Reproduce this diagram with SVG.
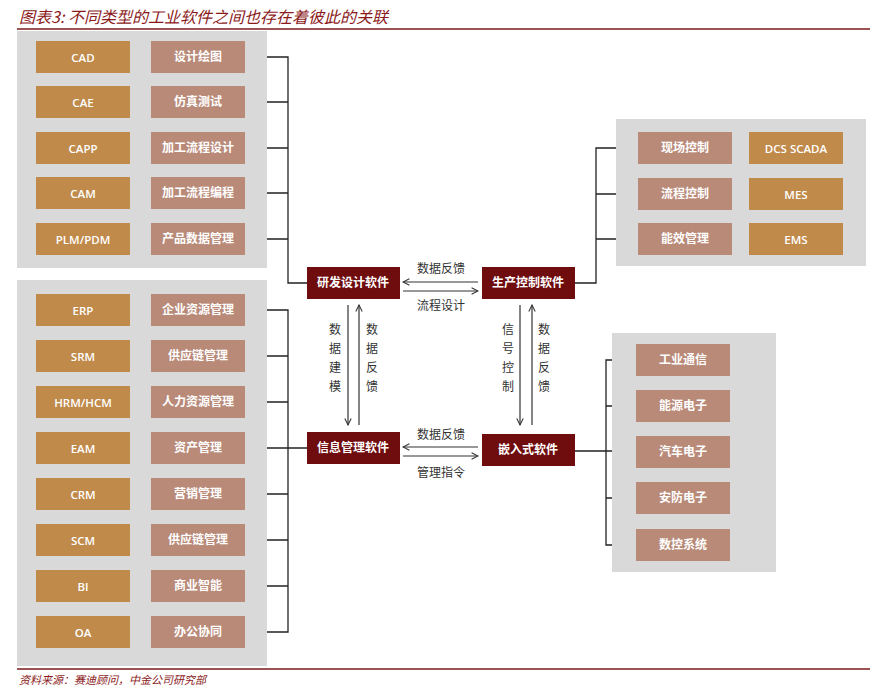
<svg xmlns="http://www.w3.org/2000/svg" width="889" height="699" viewBox="0 0 889 699">
<defs>
<style>
.pn{fill:#d9d9d9}
.g{fill:#c08a4b}
.m{fill:#b98a78}
.d{fill:#6e0c0e}
.tw{font-family:"Liberation Sans","Noto Sans CJK SC",sans-serif;font-size:12px;fill:#fff;text-anchor:middle;dominant-baseline:central;font-weight:bold}
.te{font-family:"Open Sans","Liberation Sans",sans-serif;font-size:11.5px;fill:#fff;text-anchor:middle;dominant-baseline:central;font-weight:600}
.tl{font-family:"Noto Sans CJK SC",sans-serif;font-size:12px;fill:#333;text-anchor:middle;dominant-baseline:central}
.ln{fill:none;stroke:#222;stroke-width:1.3}
.ar{fill:none;stroke:#333;stroke-width:1.2;marker-end:url(#a)}
</style>
<marker id="a" viewBox="0 0 10 10" refX="9" refY="5" markerWidth="8" markerHeight="8" orient="auto" markerUnits="userSpaceOnUse"><path d="M1,1 L9,5 L1,9" fill="none" stroke="#333" stroke-width="1.3"/></marker>
</defs>
<rect width="889" height="699" fill="#fff"/>
<text x="19" y="23" font-family="Noto Sans CJK SC,sans-serif" font-size="16" font-style="italic" fill="#8b1a1a">图表3: 不同类型的工业软件之间也存在着彼此的关联</text>
<line x1="17" y1="29" x2="870" y2="29" stroke="#7a1a1a" stroke-width="1.3"/>

<g id="connectors">
<path class="ln" d="M245,57 H288 V283 H307 M245,102 H288 M245,148 H288 M245,193 H288 M245,239 H288"/>
<path class="ln" d="M245,310 H288 V632 H245 M245,356 H288 M245,402 H288 M245,448 H307 M245,494 H288 M245,540 H288 M245,586 H288"/>
<path class="ln" d="M638,148 H596 V283 H575 M638,194 H596 M638,239 H596"/>
<path class="ln" d="M636,360 H606 V545 H636 M636,406 H606 M575,451 H636 M636,498 H606"/>
<line class="ar" x1="478" y1="282" x2="403" y2="282"/>
<line class="ar" x1="403" y1="291" x2="478" y2="291"/>
<line class="ar" x1="478" y1="447" x2="403" y2="447"/>
<line class="ar" x1="403" y1="456" x2="478" y2="456"/>
<line class="ar" x1="348" y1="305" x2="348" y2="425"/>
<line class="ar" x1="359" y1="425" x2="359" y2="305"/>
<line class="ar" x1="520" y1="305" x2="520" y2="425"/>
<line class="ar" x1="532" y1="425" x2="532" y2="305"/>
<text class="tl" x="441" y="267">数据反馈</text>
<text class="tl" x="441" y="304">流程设计</text>
<text class="tl" x="441" y="433">数据反馈</text>
<text class="tl" x="441" y="471">管理指令</text>
<g class="tl"><text class="tl" x="335" y="328">数</text><text class="tl" x="335" y="347">据</text><text class="tl" x="335" y="366">建</text><text class="tl" x="335" y="385">模</text>
<text class="tl" x="372" y="328">数</text><text class="tl" x="372" y="347">据</text><text class="tl" x="372" y="366">反</text><text class="tl" x="372" y="385">馈</text>
<text class="tl" x="508" y="328">信</text><text class="tl" x="508" y="347">号</text><text class="tl" x="508" y="366">控</text><text class="tl" x="508" y="385">制</text>
<text class="tl" x="544" y="328">数</text><text class="tl" x="544" y="347">据</text><text class="tl" x="544" y="366">反</text><text class="tl" x="544" y="385">馈</text></g>
</g>

<rect class="pn" x="17" y="31" width="250" height="237"/>
<rect class="pn" x="17" y="280" width="250" height="386"/>
<rect class="pn" x="616" y="119" width="250" height="147"/>
<rect class="pn" x="612" y="333" width="164" height="239"/>

<g id="rd-left"><rect class="g" x="36" y="41" width="94" height="32"/><text class="te" x="83" y="57">CAD</text><rect class="m" x="151" y="41" width="94" height="32"/><text class="tw" x="198" y="57">设计绘图</text></g>
<g id="rd-2"><rect class="g" x="36" y="86" width="94" height="32"/><text class="te" x="83" y="102">CAE</text><rect class="m" x="151" y="86" width="94" height="32"/><text class="tw" x="198" y="102">仿真测试</text></g>
<g id="rd-3"><rect class="g" x="36" y="132" width="94" height="32"/><text class="te" x="83" y="148">CAPP</text><rect class="m" x="151" y="132" width="94" height="32"/><text class="tw" x="198" y="148">加工流程设计</text></g>
<g id="rd-4"><rect class="g" x="36" y="177" width="94" height="32"/><text class="te" x="83" y="193">CAM</text><rect class="m" x="151" y="177" width="94" height="32"/><text class="tw" x="198" y="193">加工流程编程</text></g>
<g id="rd-5"><rect class="g" x="36" y="223" width="94" height="32"/><text class="te" x="83" y="239">PLM/PDM</text><rect class="m" x="151" y="223" width="94" height="32"/><text class="tw" x="198" y="239">产品数据管理</text></g>

<g id="im-1"><rect class="g" x="36" y="294" width="94" height="32"/><text class="te" x="83" y="310">ERP</text><rect class="m" x="151" y="294" width="94" height="32"/><text class="tw" x="198" y="310">企业资源管理</text></g>
<g id="im-2"><rect class="g" x="36" y="340" width="94" height="32"/><text class="te" x="83" y="356">SRM</text><rect class="m" x="151" y="340" width="94" height="32"/><text class="tw" x="198" y="356">供应链管理</text></g>
<g id="im-3"><rect class="g" x="36" y="386" width="94" height="32"/><text class="te" x="83" y="402">HRM/HCM</text><rect class="m" x="151" y="386" width="94" height="32"/><text class="tw" x="198" y="402">人力资源管理</text></g>
<g id="im-4"><rect class="g" x="36" y="432" width="94" height="32"/><text class="te" x="83" y="448">EAM</text><rect class="m" x="151" y="432" width="94" height="32"/><text class="tw" x="198" y="448">资产管理</text></g>
<g id="im-5"><rect class="g" x="36" y="478" width="94" height="32"/><text class="te" x="83" y="494">CRM</text><rect class="m" x="151" y="478" width="94" height="32"/><text class="tw" x="198" y="494">营销管理</text></g>
<g id="im-6"><rect class="g" x="36" y="524" width="94" height="32"/><text class="te" x="83" y="540">SCM</text><rect class="m" x="151" y="524" width="94" height="32"/><text class="tw" x="198" y="540">供应链管理</text></g>
<g id="im-7"><rect class="g" x="36" y="570" width="94" height="32"/><text class="te" x="83" y="586">BI</text><rect class="m" x="151" y="570" width="94" height="32"/><text class="tw" x="198" y="586">商业智能</text></g>
<g id="im-8"><rect class="g" x="36" y="616" width="94" height="32"/><text class="te" x="83" y="632">OA</text><rect class="m" x="151" y="616" width="94" height="32"/><text class="tw" x="198" y="632">办公协同</text></g>

<g id="pc-1"><rect class="m" x="638" y="132" width="94" height="32"/><text class="tw" x="685" y="148">现场控制</text><rect class="g" x="749" y="132" width="94" height="32"/><text class="te" x="796" y="148">DCS SCADA</text></g>
<g id="pc-2"><rect class="m" x="638" y="178" width="94" height="32"/><text class="tw" x="685" y="194">流程控制</text><rect class="g" x="749" y="178" width="94" height="32"/><text class="te" x="796" y="194">MES</text></g>
<g id="pc-3"><rect class="m" x="638" y="223" width="94" height="32"/><text class="tw" x="685" y="239">能效管理</text><rect class="g" x="749" y="223" width="94" height="32"/><text class="te" x="796" y="239">EMS</text></g>

<g id="em-1"><rect class="m" x="636" y="344" width="94" height="32"/><text class="tw" x="683" y="360">工业通信</text></g>
<g id="em-2"><rect class="m" x="636" y="390" width="94" height="32"/><text class="tw" x="683" y="406">能源电子</text></g>
<g id="em-3"><rect class="m" x="636" y="436" width="94" height="32"/><text class="tw" x="683" y="452">汽车电子</text></g>
<g id="em-4"><rect class="m" x="636" y="482" width="94" height="32"/><text class="tw" x="683" y="498">安防电子</text></g>
<g id="em-5"><rect class="m" x="636" y="529" width="94" height="32"/><text class="tw" x="683" y="545">数控系统</text></g>

<g id="rd"><rect class="d" x="307" y="267" width="93" height="32"/><text class="tw" x="353" y="283">研发设计软件</text></g>
<g id="pc"><rect class="d" x="482" y="267" width="93" height="32"/><text class="tw" x="528" y="283">生产控制软件</text></g>
<g id="im"><rect class="d" x="307" y="432" width="93" height="32"/><text class="tw" x="353" y="448">信息管理软件</text></g>
<g id="em"><rect class="d" x="482" y="434" width="93" height="32"/><text class="tw" x="528" y="450">嵌入式软件</text></g>

<line x1="17" y1="669" x2="870" y2="669" stroke="#7a1a1a" stroke-width="1.3"/>
<text x="19" y="684" font-family="Noto Sans CJK SC,sans-serif" font-size="11" font-style="italic" fill="#8b1a1a">资料来源：赛迪顾问，中金公司研究部</text>
</svg>
